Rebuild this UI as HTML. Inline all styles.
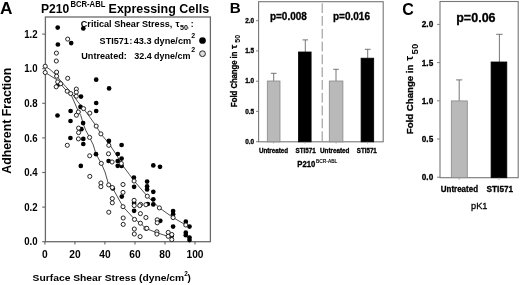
<!DOCTYPE html>
<html><head><meta charset="utf-8"><style>
html,body{margin:0;padding:0;background:#fff;}
svg{display:block;will-change:transform;filter:blur(0.3px);}
text{font-family:"Liberation Sans", sans-serif;fill:#000;}
.h{stroke:#000;stroke-width:0.3px;}
</style></head><body>
<svg width="520" height="285" viewBox="0 0 520 285">
<rect x="0" y="0" width="520" height="285" fill="#fff"/>
<text x="-0.1" y="13.9" font-size="17.3" font-weight="bold">A</text>
<text x="41" y="12.8" font-size="13.1" font-weight="bold" textLength="28.3" lengthAdjust="spacingAndGlyphs">P210</text>
<text x="70.4" y="6.9" font-size="8.3" font-weight="bold" textLength="35" lengthAdjust="spacingAndGlyphs">BCR-ABL</text>
<text x="108.6" y="12.8" font-size="13" font-weight="bold" textLength="100.5" lengthAdjust="spacingAndGlyphs">Expressing Cells</text>
<rect x="45.4" y="17" width="165" height="224.7" fill="none" stroke="#6a6a6a" stroke-width="1.3"/>
<line x1="42.2" y1="241.7" x2="45.4" y2="241.7" stroke="#666" stroke-width="1.1"/>
<text x="37.6" y="245.4" font-size="10.6" font-weight="bold" text-anchor="end" textLength="13.4" lengthAdjust="spacingAndGlyphs">0.0</text>
<line x1="42.2" y1="207.1" x2="45.4" y2="207.1" stroke="#666" stroke-width="1.1"/>
<text x="37.6" y="210.8" font-size="10.6" font-weight="bold" text-anchor="end" textLength="13.4" lengthAdjust="spacingAndGlyphs">0.2</text>
<line x1="42.2" y1="172.5" x2="45.4" y2="172.5" stroke="#666" stroke-width="1.1"/>
<text x="37.6" y="176.2" font-size="10.6" font-weight="bold" text-anchor="end" textLength="13.4" lengthAdjust="spacingAndGlyphs">0.4</text>
<line x1="42.2" y1="137.9" x2="45.4" y2="137.9" stroke="#666" stroke-width="1.1"/>
<text x="37.6" y="141.6" font-size="10.6" font-weight="bold" text-anchor="end" textLength="13.4" lengthAdjust="spacingAndGlyphs">0.6</text>
<line x1="42.2" y1="103.3" x2="45.4" y2="103.3" stroke="#666" stroke-width="1.1"/>
<text x="37.6" y="107.0" font-size="10.6" font-weight="bold" text-anchor="end" textLength="13.4" lengthAdjust="spacingAndGlyphs">0.8</text>
<line x1="42.2" y1="68.7" x2="45.4" y2="68.7" stroke="#666" stroke-width="1.1"/>
<text x="37.6" y="72.4" font-size="10.6" font-weight="bold" text-anchor="end" textLength="13.4" lengthAdjust="spacingAndGlyphs">1.0</text>
<line x1="42.2" y1="34.1" x2="45.4" y2="34.1" stroke="#666" stroke-width="1.1"/>
<text x="37.6" y="37.8" font-size="10.6" font-weight="bold" text-anchor="end" textLength="13.4" lengthAdjust="spacingAndGlyphs">1.2</text>
<line x1="44.9" y1="241.7" x2="44.9" y2="244.5" stroke="#555" stroke-width="1"/>
<text x="44.9" y="257.8" font-size="10.2" font-weight="bold" text-anchor="middle">0</text>
<line x1="74.9" y1="241.7" x2="74.9" y2="244.5" stroke="#555" stroke-width="1"/>
<text x="74.9" y="257.8" font-size="10.2" font-weight="bold" text-anchor="middle">20</text>
<line x1="104.9" y1="241.7" x2="104.9" y2="244.5" stroke="#555" stroke-width="1"/>
<text x="104.9" y="257.8" font-size="10.2" font-weight="bold" text-anchor="middle">40</text>
<line x1="135.0" y1="241.7" x2="135.0" y2="244.5" stroke="#555" stroke-width="1"/>
<text x="135.0" y="257.8" font-size="10.2" font-weight="bold" text-anchor="middle">60</text>
<line x1="165.0" y1="241.7" x2="165.0" y2="244.5" stroke="#555" stroke-width="1"/>
<text x="165.0" y="257.8" font-size="10.2" font-weight="bold" text-anchor="middle">80</text>
<line x1="195.0" y1="241.7" x2="195.0" y2="244.5" stroke="#555" stroke-width="1"/>
<text x="195.0" y="257.8" font-size="10.2" font-weight="bold" text-anchor="middle">100</text>
<text transform="translate(11,120.7) rotate(-90)" x="0" y="0" font-size="12.3" font-weight="bold" text-anchor="middle" textLength="106" lengthAdjust="spacingAndGlyphs">Adherent Fraction</text>
<text x="32.6" y="280.5" font-size="9.9" font-weight="bold" textLength="151.6" lengthAdjust="spacingAndGlyphs">Surface Shear Stress (dyne/cm</text>
<text x="184.3" y="276.3" font-size="6.3" font-weight="bold">2</text>
<text x="187.6" y="280.5" font-size="9.9" font-weight="bold">)</text>
<polyline points="45.2,72.5 50.0,75.5 56.5,79.5 60.7,83.7 64.0,88.0 67.2,91.2 70.7,93.6 72.5,98.0 75.2,104.0 78.2,111.3 80.8,115.5 83.0,122.9 85.6,130.0 89.6,137.4 93.3,145.0 96.0,154.2 101.3,163.4 105.0,172.0 108.7,184.9 112.4,187.6 117.0,196.0 123.0,206.7 134.7,219.4 140.4,223.2 145.9,228.4 157.0,232.8 168.2,236.4" fill="none" stroke="#222" stroke-width="0.8"/>
<polyline points="45.2,66.2 50.0,69.5 55.0,74.0 62.0,82.5 68.0,89.0 73.1,95.0 78.0,102.0 83.5,108.6 88.3,115.0 96.2,126.1 100.9,133.9 108.8,143.4 116.8,155.3 121.2,163.6 129.5,174.6 134.2,181.0 147.3,196.2 159.4,207.9 173.1,217.6 185.8,225.0" fill="none" stroke="#222" stroke-width="0.8"/>
<circle cx="57.7" cy="27.6" r="2.35" fill="#000"/>
<circle cx="83.3" cy="28.4" r="2.35" fill="#000"/>
<circle cx="71.2" cy="43.1" r="2.35" fill="#000"/>
<circle cx="57.9" cy="44.5" r="2.35" fill="#000"/>
<circle cx="96.2" cy="79.7" r="2.35" fill="#000"/>
<circle cx="109.1" cy="88.4" r="2.35" fill="#000"/>
<circle cx="58.2" cy="84.6" r="2.35" fill="#000"/>
<circle cx="81.0" cy="96.6" r="2.35" fill="#000"/>
<circle cx="96.2" cy="103.0" r="2.35" fill="#000"/>
<circle cx="96.2" cy="111.0" r="2.35" fill="#000"/>
<circle cx="80.5" cy="106.9" r="2.35" fill="#000"/>
<circle cx="70.6" cy="111.0" r="2.35" fill="#000"/>
<circle cx="57.5" cy="115.5" r="2.35" fill="#000"/>
<circle cx="70.5" cy="121.0" r="2.35" fill="#000"/>
<circle cx="83.1" cy="123.1" r="2.35" fill="#000"/>
<circle cx="81.4" cy="129.2" r="2.35" fill="#000"/>
<circle cx="70.4" cy="138.0" r="2.35" fill="#000"/>
<circle cx="83.3" cy="138.9" r="2.35" fill="#000"/>
<circle cx="83.3" cy="144.0" r="2.35" fill="#000"/>
<circle cx="80.8" cy="165.9" r="2.35" fill="#000"/>
<circle cx="96.0" cy="154.2" r="2.35" fill="#000"/>
<circle cx="108.9" cy="140.9" r="2.35" fill="#000"/>
<circle cx="121.6" cy="145.0" r="2.35" fill="#000"/>
<circle cx="117.8" cy="154.0" r="2.35" fill="#000"/>
<circle cx="108.6" cy="161.0" r="2.35" fill="#000"/>
<circle cx="117.7" cy="161.0" r="2.35" fill="#000"/>
<circle cx="121.6" cy="158.6" r="2.35" fill="#000"/>
<circle cx="117.7" cy="165.8" r="2.35" fill="#000"/>
<circle cx="121.6" cy="166.0" r="2.35" fill="#000"/>
<circle cx="133.9" cy="177.5" r="2.35" fill="#000"/>
<circle cx="153.3" cy="165.4" r="2.35" fill="#000"/>
<circle cx="160.0" cy="166.8" r="2.35" fill="#000"/>
<circle cx="134.1" cy="186.8" r="2.35" fill="#000"/>
<circle cx="147.1" cy="181.6" r="2.35" fill="#000"/>
<circle cx="147.1" cy="186.4" r="2.35" fill="#000"/>
<circle cx="147.1" cy="189.5" r="2.35" fill="#000"/>
<circle cx="153.3" cy="191.8" r="2.35" fill="#000"/>
<circle cx="121.8" cy="196.6" r="2.35" fill="#000"/>
<circle cx="153.3" cy="199.3" r="2.35" fill="#000"/>
<circle cx="153.3" cy="204.4" r="2.35" fill="#000"/>
<circle cx="147.8" cy="204.0" r="2.35" fill="#000"/>
<circle cx="134.1" cy="203.0" r="2.35" fill="#000"/>
<circle cx="134.1" cy="210.8" r="2.35" fill="#000"/>
<circle cx="112.8" cy="188.5" r="2.35" fill="#000"/>
<circle cx="173.1" cy="211.0" r="2.35" fill="#000"/>
<circle cx="173.1" cy="214.2" r="2.35" fill="#000"/>
<circle cx="173.1" cy="226.6" r="2.35" fill="#000"/>
<circle cx="160.3" cy="220.8" r="2.35" fill="#000"/>
<circle cx="185.8" cy="221.7" r="2.35" fill="#000"/>
<circle cx="189.5" cy="226.6" r="2.35" fill="#000"/>
<circle cx="185.8" cy="232.7" r="2.35" fill="#000"/>
<circle cx="185.8" cy="235.2" r="2.35" fill="#000"/>
<circle cx="189.5" cy="237.6" r="2.35" fill="#000"/>
<circle cx="189.5" cy="240.1" r="2.35" fill="#000"/>
<circle cx="171.5" cy="236.3" r="2.35" fill="#000"/>
<circle cx="67.7" cy="39.1" r="2.05" fill="#fff" stroke="#1a1a1a" stroke-width="0.95"/>
<circle cx="56.4" cy="53.1" r="2.05" fill="#fff" stroke="#1a1a1a" stroke-width="0.95"/>
<circle cx="56.3" cy="61.0" r="2.05" fill="#fff" stroke="#1a1a1a" stroke-width="0.95"/>
<circle cx="45.2" cy="66.2" r="2.05" fill="#fff" stroke="#1a1a1a" stroke-width="0.95"/>
<circle cx="45.2" cy="72.5" r="2.05" fill="#fff" stroke="#1a1a1a" stroke-width="0.95"/>
<circle cx="56.6" cy="72.1" r="2.05" fill="#fff" stroke="#1a1a1a" stroke-width="0.95"/>
<circle cx="56.6" cy="76.2" r="2.05" fill="#fff" stroke="#1a1a1a" stroke-width="0.95"/>
<circle cx="67.7" cy="78.3" r="2.05" fill="#fff" stroke="#1a1a1a" stroke-width="0.95"/>
<circle cx="57.7" cy="81.9" r="2.05" fill="#fff" stroke="#1a1a1a" stroke-width="0.95"/>
<circle cx="56.2" cy="86.8" r="2.05" fill="#fff" stroke="#1a1a1a" stroke-width="0.95"/>
<circle cx="60.7" cy="83.7" r="2.05" fill="#fff" stroke="#1a1a1a" stroke-width="0.95"/>
<circle cx="67.2" cy="91.2" r="2.05" fill="#fff" stroke="#1a1a1a" stroke-width="0.95"/>
<circle cx="70.7" cy="93.6" r="2.05" fill="#fff" stroke="#1a1a1a" stroke-width="0.95"/>
<circle cx="76.3" cy="89.1" r="2.05" fill="#fff" stroke="#1a1a1a" stroke-width="0.95"/>
<circle cx="76.3" cy="92.2" r="2.05" fill="#fff" stroke="#1a1a1a" stroke-width="0.95"/>
<circle cx="76.3" cy="96.2" r="2.05" fill="#fff" stroke="#1a1a1a" stroke-width="0.95"/>
<circle cx="83.5" cy="108.6" r="2.05" fill="#fff" stroke="#1a1a1a" stroke-width="0.95"/>
<circle cx="89.8" cy="113.1" r="2.05" fill="#fff" stroke="#1a1a1a" stroke-width="0.95"/>
<circle cx="78.3" cy="112.0" r="2.05" fill="#fff" stroke="#1a1a1a" stroke-width="0.95"/>
<circle cx="76.4" cy="115.2" r="2.05" fill="#fff" stroke="#1a1a1a" stroke-width="0.95"/>
<circle cx="78.6" cy="128.1" r="2.05" fill="#fff" stroke="#1a1a1a" stroke-width="0.95"/>
<circle cx="78.6" cy="132.6" r="2.05" fill="#fff" stroke="#1a1a1a" stroke-width="0.95"/>
<circle cx="78.4" cy="138.9" r="2.05" fill="#fff" stroke="#1a1a1a" stroke-width="0.95"/>
<circle cx="67.3" cy="145.3" r="2.05" fill="#fff" stroke="#1a1a1a" stroke-width="0.95"/>
<circle cx="89.6" cy="137.4" r="2.05" fill="#fff" stroke="#1a1a1a" stroke-width="0.95"/>
<circle cx="96.2" cy="126.1" r="2.05" fill="#fff" stroke="#1a1a1a" stroke-width="0.95"/>
<circle cx="100.9" cy="133.9" r="2.05" fill="#fff" stroke="#1a1a1a" stroke-width="0.95"/>
<circle cx="108.8" cy="145.3" r="2.05" fill="#fff" stroke="#1a1a1a" stroke-width="0.95"/>
<circle cx="89.7" cy="155.8" r="2.05" fill="#fff" stroke="#1a1a1a" stroke-width="0.95"/>
<circle cx="101.3" cy="163.4" r="2.05" fill="#fff" stroke="#1a1a1a" stroke-width="0.95"/>
<circle cx="89.8" cy="176.4" r="2.05" fill="#fff" stroke="#1a1a1a" stroke-width="0.95"/>
<circle cx="108.5" cy="153.8" r="2.05" fill="#fff" stroke="#1a1a1a" stroke-width="0.95"/>
<circle cx="112.1" cy="162.0" r="2.05" fill="#fff" stroke="#1a1a1a" stroke-width="0.95"/>
<circle cx="121.3" cy="163.5" r="2.05" fill="#fff" stroke="#1a1a1a" stroke-width="0.95"/>
<circle cx="100.9" cy="183.0" r="2.05" fill="#fff" stroke="#1a1a1a" stroke-width="0.95"/>
<circle cx="100.9" cy="186.7" r="2.05" fill="#fff" stroke="#1a1a1a" stroke-width="0.95"/>
<circle cx="108.7" cy="184.9" r="2.05" fill="#fff" stroke="#1a1a1a" stroke-width="0.95"/>
<circle cx="112.3" cy="187.5" r="2.05" fill="#fff" stroke="#1a1a1a" stroke-width="0.95"/>
<circle cx="112.3" cy="198.6" r="2.05" fill="#fff" stroke="#1a1a1a" stroke-width="0.95"/>
<circle cx="112.3" cy="202.8" r="2.05" fill="#fff" stroke="#1a1a1a" stroke-width="0.95"/>
<circle cx="123.0" cy="184.5" r="2.05" fill="#fff" stroke="#1a1a1a" stroke-width="0.95"/>
<circle cx="123.0" cy="192.4" r="2.05" fill="#fff" stroke="#1a1a1a" stroke-width="0.95"/>
<circle cx="134.1" cy="181.0" r="2.05" fill="#fff" stroke="#1a1a1a" stroke-width="0.95"/>
<circle cx="134.1" cy="200.3" r="2.05" fill="#fff" stroke="#1a1a1a" stroke-width="0.95"/>
<circle cx="147.3" cy="196.2" r="2.05" fill="#fff" stroke="#1a1a1a" stroke-width="0.95"/>
<circle cx="140.6" cy="204.4" r="2.05" fill="#fff" stroke="#1a1a1a" stroke-width="0.95"/>
<circle cx="145.9" cy="204.7" r="2.05" fill="#fff" stroke="#1a1a1a" stroke-width="0.95"/>
<circle cx="159.4" cy="207.9" r="2.05" fill="#fff" stroke="#1a1a1a" stroke-width="0.95"/>
<circle cx="123.0" cy="206.7" r="2.05" fill="#fff" stroke="#1a1a1a" stroke-width="0.95"/>
<circle cx="108.8" cy="212.2" r="2.05" fill="#fff" stroke="#1a1a1a" stroke-width="0.95"/>
<circle cx="123.2" cy="218.0" r="2.05" fill="#fff" stroke="#1a1a1a" stroke-width="0.95"/>
<circle cx="123.2" cy="224.4" r="2.05" fill="#fff" stroke="#1a1a1a" stroke-width="0.95"/>
<circle cx="134.5" cy="219.4" r="2.05" fill="#fff" stroke="#1a1a1a" stroke-width="0.95"/>
<circle cx="140.4" cy="213.6" r="2.05" fill="#fff" stroke="#1a1a1a" stroke-width="0.95"/>
<circle cx="145.9" cy="217.5" r="2.05" fill="#fff" stroke="#1a1a1a" stroke-width="0.95"/>
<circle cx="140.4" cy="223.2" r="2.05" fill="#fff" stroke="#1a1a1a" stroke-width="0.95"/>
<circle cx="145.9" cy="228.4" r="2.05" fill="#fff" stroke="#1a1a1a" stroke-width="0.95"/>
<circle cx="134.3" cy="229.0" r="2.05" fill="#fff" stroke="#1a1a1a" stroke-width="0.95"/>
<circle cx="134.3" cy="234.0" r="2.05" fill="#fff" stroke="#1a1a1a" stroke-width="0.95"/>
<circle cx="140.1" cy="236.6" r="2.05" fill="#fff" stroke="#1a1a1a" stroke-width="0.95"/>
<circle cx="157.2" cy="219.8" r="2.05" fill="#fff" stroke="#1a1a1a" stroke-width="0.95"/>
<circle cx="157.2" cy="222.8" r="2.05" fill="#fff" stroke="#1a1a1a" stroke-width="0.95"/>
<circle cx="156.9" cy="231.8" r="2.05" fill="#fff" stroke="#1a1a1a" stroke-width="0.95"/>
<circle cx="156.9" cy="234.1" r="2.05" fill="#fff" stroke="#1a1a1a" stroke-width="0.95"/>
<circle cx="168.2" cy="232.4" r="2.05" fill="#fff" stroke="#1a1a1a" stroke-width="0.95"/>
<circle cx="168.2" cy="236.3" r="2.05" fill="#fff" stroke="#1a1a1a" stroke-width="0.95"/>
<circle cx="171.8" cy="234.5" r="2.05" fill="#fff" stroke="#1a1a1a" stroke-width="0.95"/>
<circle cx="171.8" cy="239.6" r="2.05" fill="#fff" stroke="#1a1a1a" stroke-width="0.95"/>
<circle cx="173.1" cy="217.6" r="2.05" fill="#fff" stroke="#1a1a1a" stroke-width="0.95"/>
<circle cx="185.8" cy="225.0" r="2.05" fill="#fff" stroke="#1a1a1a" stroke-width="0.95"/>
<circle cx="146.8" cy="228.3" r="2.05" fill="#fff" stroke="#1a1a1a" stroke-width="0.95"/>
<circle cx="134.2" cy="205.6" r="2.05" fill="#fff" stroke="#1a1a1a" stroke-width="0.95"/>
<circle cx="139.7" cy="205.6" r="2.05" fill="#fff" stroke="#1a1a1a" stroke-width="0.95"/>
<text x="80.8" y="26.9" font-size="8.5" font-weight="bold" textLength="91.5" lengthAdjust="spacingAndGlyphs">Critical Shear Stress,</text>
<text x="175.4" y="26.6" font-size="9" font-weight="bold" font-family="'Liberation Serif', serif">τ</text>
<text x="180" y="30.4" font-size="7.2" font-weight="bold">50</text>
<text x="188" y="27.5" font-size="5" fill="#999">,</text>
<text x="190.8" y="26.9" font-size="8.5" font-weight="bold">:</text>
<text x="99.6" y="43.8" font-size="8.5" font-weight="bold" textLength="29.2" lengthAdjust="spacingAndGlyphs">STI571</text>
<text x="129.6" y="43.8" font-size="8.5" font-weight="bold">:</text>
<text x="133.7" y="43.8" font-size="8.5" font-weight="bold" textLength="57.4" lengthAdjust="spacingAndGlyphs">43.3 dyne/cm</text>
<text x="191.3" y="37.6" font-size="7" font-weight="bold">2</text>
<circle cx="202.5" cy="40.5" r="3.35" fill="#000"/>
<text x="81.3" y="59.1" font-size="8.5" font-weight="bold" textLength="45.5" lengthAdjust="spacingAndGlyphs">Untreated:</text>
<text x="134.2" y="59.1" font-size="8.5" font-weight="bold" textLength="56.3" lengthAdjust="spacingAndGlyphs">32.4 dyne/cm</text>
<text x="191.3" y="52.4" font-size="7" font-weight="bold">2</text>
<circle cx="202.5" cy="53.7" r="2.9" fill="#ddd" stroke="#111" stroke-width="0.9"/>
<text x="229.8" y="12.9" font-size="15.2" font-weight="bold">B</text>
<rect x="258.6" y="1.7" width="124.6" height="140.1" fill="none" stroke="#777" stroke-width="1.1"/>
<line x1="322.2" y1="3.3" x2="322.2" y2="141.8" stroke="#888" stroke-width="0.95" stroke-dasharray="9.7,3.1"/>
<line x1="256" y1="141.7" x2="258.6" y2="141.7" stroke="#777" stroke-width="0.9"/>
<text x="254.1" y="143.8" font-size="6.4" font-weight="bold" text-anchor="end" class="h">0.0</text>
<line x1="256" y1="111.4" x2="258.6" y2="111.4" stroke="#777" stroke-width="0.9"/>
<text x="254.1" y="113.5" font-size="6.4" font-weight="bold" text-anchor="end" class="h">0.5</text>
<line x1="256" y1="81.2" x2="258.6" y2="81.2" stroke="#777" stroke-width="0.9"/>
<text x="254.1" y="83.3" font-size="6.4" font-weight="bold" text-anchor="end" class="h">1.0</text>
<line x1="256" y1="50.9" x2="258.6" y2="50.9" stroke="#777" stroke-width="0.9"/>
<text x="254.1" y="53.0" font-size="6.4" font-weight="bold" text-anchor="end" class="h">1.5</text>
<line x1="256" y1="20.7" x2="258.6" y2="20.7" stroke="#777" stroke-width="0.9"/>
<text x="254.1" y="22.8" font-size="6.4" font-weight="bold" text-anchor="end" class="h">2.0</text>
<line x1="273.7" y1="81.0" x2="273.7" y2="73.3" stroke="#666" stroke-width="0.9"/>
<line x1="270.8" y1="73.3" x2="276.6" y2="73.3" stroke="#666" stroke-width="0.9"/>
<rect x="267.3" y="81.0" width="12.7" height="60.8" fill="#b9b9b9" stroke="#888" stroke-width="0.8"/>
<line x1="305.3" y1="52.0" x2="305.3" y2="39.9" stroke="#666" stroke-width="0.9"/>
<line x1="302.5" y1="39.9" x2="308.1" y2="39.9" stroke="#666" stroke-width="0.9"/>
<rect x="298.5" y="52.0" width="12.6" height="89.8" fill="#000" stroke="#000" stroke-width="0.8"/>
<line x1="336.0" y1="81.0" x2="336.0" y2="69.3" stroke="#666" stroke-width="0.9"/>
<line x1="333.2" y1="69.3" x2="338.8" y2="69.3" stroke="#666" stroke-width="0.9"/>
<rect x="329.3" y="81.0" width="13.6" height="60.8" fill="#b9b9b9" stroke="#888" stroke-width="0.8"/>
<line x1="367.7" y1="58.2" x2="367.7" y2="49.3" stroke="#666" stroke-width="0.9"/>
<line x1="364.8" y1="49.3" x2="370.6" y2="49.3" stroke="#666" stroke-width="0.9"/>
<rect x="361.1" y="58.2" width="12.6" height="83.6" fill="#000" stroke="#000" stroke-width="0.8"/>
<line x1="273.6" y1="141.8" x2="273.6" y2="143.6" stroke="#999" stroke-width="0.7"/>
<line x1="304.9" y1="141.8" x2="304.9" y2="143.6" stroke="#999" stroke-width="0.7"/>
<line x1="336.1" y1="141.8" x2="336.1" y2="143.6" stroke="#999" stroke-width="0.7"/>
<line x1="367.5" y1="141.8" x2="367.5" y2="143.6" stroke="#999" stroke-width="0.7"/>
<text x="288.4" y="20.0" font-size="10" font-weight="bold" text-anchor="middle" class="h">p=0.008</text>
<text x="351.5" y="20.0" font-size="10" font-weight="bold" text-anchor="middle" class="h">p=0.016</text>
<text x="258.9" y="152.5" font-size="6.3" font-weight="bold" textLength="29.1" lengthAdjust="spacingAndGlyphs" class="h">Untreated</text>
<text x="295.6" y="152.5" font-size="6.3" font-weight="bold" textLength="20" lengthAdjust="spacingAndGlyphs" class="h">STI571</text>
<text x="320" y="152.5" font-size="6.3" font-weight="bold" textLength="29.4" lengthAdjust="spacingAndGlyphs" class="h">Untreated</text>
<text x="356.8" y="152.5" font-size="6.3" font-weight="bold" textLength="20" lengthAdjust="spacingAndGlyphs" class="h">STI571</text>
<text x="297.3" y="167.4" font-size="8.3" font-weight="bold" textLength="18" lengthAdjust="spacingAndGlyphs" class="h">P210</text>
<text x="315.9" y="163.4" font-size="4.6" textLength="21.3" lengthAdjust="spacingAndGlyphs" style="stroke:#000;stroke-width:0.15px">BCR-ABL</text>
<g transform="translate(236.9,106.9) rotate(-90)"><text x="0" y="0" font-size="8.2" font-weight="bold" textLength="55.3" lengthAdjust="spacingAndGlyphs" class="h">Fold Change in</text><text x="57.8" y="0" font-size="9.4" font-weight="bold" class="h">τ</text><text x="64.2" y="3.0" font-size="7" font-weight="bold" textLength="7.8" lengthAdjust="spacingAndGlyphs">50</text></g>
<text x="402.2" y="14.9" font-size="16" font-weight="bold">C</text>
<rect x="440" y="1.5" width="78.2" height="176.2" fill="none" stroke="#777" stroke-width="1.1"/>
<line x1="437" y1="177.2" x2="440" y2="177.2" stroke="#777" stroke-width="0.9"/>
<text x="433.2" y="180.1" font-size="8.2" font-weight="bold" text-anchor="end" class="h">0.0</text>
<line x1="437" y1="139.0" x2="440" y2="139.0" stroke="#777" stroke-width="0.9"/>
<text x="433.2" y="141.9" font-size="8.2" font-weight="bold" text-anchor="end" class="h">0.5</text>
<line x1="437" y1="100.8" x2="440" y2="100.8" stroke="#777" stroke-width="0.9"/>
<text x="433.2" y="103.7" font-size="8.2" font-weight="bold" text-anchor="end" class="h">1.0</text>
<line x1="437" y1="62.6" x2="440" y2="62.6" stroke="#777" stroke-width="0.9"/>
<text x="433.2" y="65.5" font-size="8.2" font-weight="bold" text-anchor="end" class="h">1.5</text>
<line x1="437" y1="24.4" x2="440" y2="24.4" stroke="#777" stroke-width="0.9"/>
<text x="433.2" y="27.3" font-size="8.2" font-weight="bold" text-anchor="end" class="h">2.0</text>
<line x1="459.2" y1="100.9" x2="459.2" y2="79.9" stroke="#666" stroke-width="0.9"/>
<line x1="456.1" y1="79.9" x2="462.3" y2="79.9" stroke="#666" stroke-width="0.9"/>
<rect x="451.3" y="100.9" width="16.0" height="76.8" fill="#b9b9b9" stroke="#888" stroke-width="0.8"/>
<line x1="499.4" y1="62.0" x2="499.4" y2="34.3" stroke="#666" stroke-width="0.9"/>
<line x1="496.2" y1="34.3" x2="502.6" y2="34.3" stroke="#666" stroke-width="0.9"/>
<rect x="491.1" y="62.0" width="15.7" height="115.7" fill="#000" stroke="#000" stroke-width="0.8"/>
<line x1="459.2" y1="177.7" x2="459.2" y2="179.9" stroke="#999" stroke-width="0.7"/>
<line x1="498.9" y1="177.7" x2="498.9" y2="179.9" stroke="#999" stroke-width="0.7"/>
<text x="456.2" y="22.1" font-size="12.5" font-weight="bold" textLength="39.4" lengthAdjust="spacingAndGlyphs" class="h">p=0.06</text>
<text x="440.8" y="192.1" font-size="8.2" font-weight="bold" textLength="37.2" lengthAdjust="spacingAndGlyphs" class="h">Untreated</text>
<text x="486.6" y="192.1" font-size="8.2" font-weight="bold" textLength="26.5" lengthAdjust="spacingAndGlyphs" class="h">STI571</text>
<text x="471" y="209" font-size="9.5" textLength="16.4" lengthAdjust="spacingAndGlyphs" style="stroke:#000;stroke-width:0.3px">pK1</text>
<g transform="translate(413.4,134.2) rotate(-90)"><text x="0" y="0" font-size="9.4" font-weight="bold" textLength="69.6" lengthAdjust="spacingAndGlyphs" class="h">Fold Change in</text><text x="73.4" y="0" font-size="11" font-weight="bold">τ</text><text x="79.8" y="4.4" font-size="8.2" font-weight="bold" textLength="10.6" lengthAdjust="spacingAndGlyphs">50</text></g>
</svg>
</body></html>
